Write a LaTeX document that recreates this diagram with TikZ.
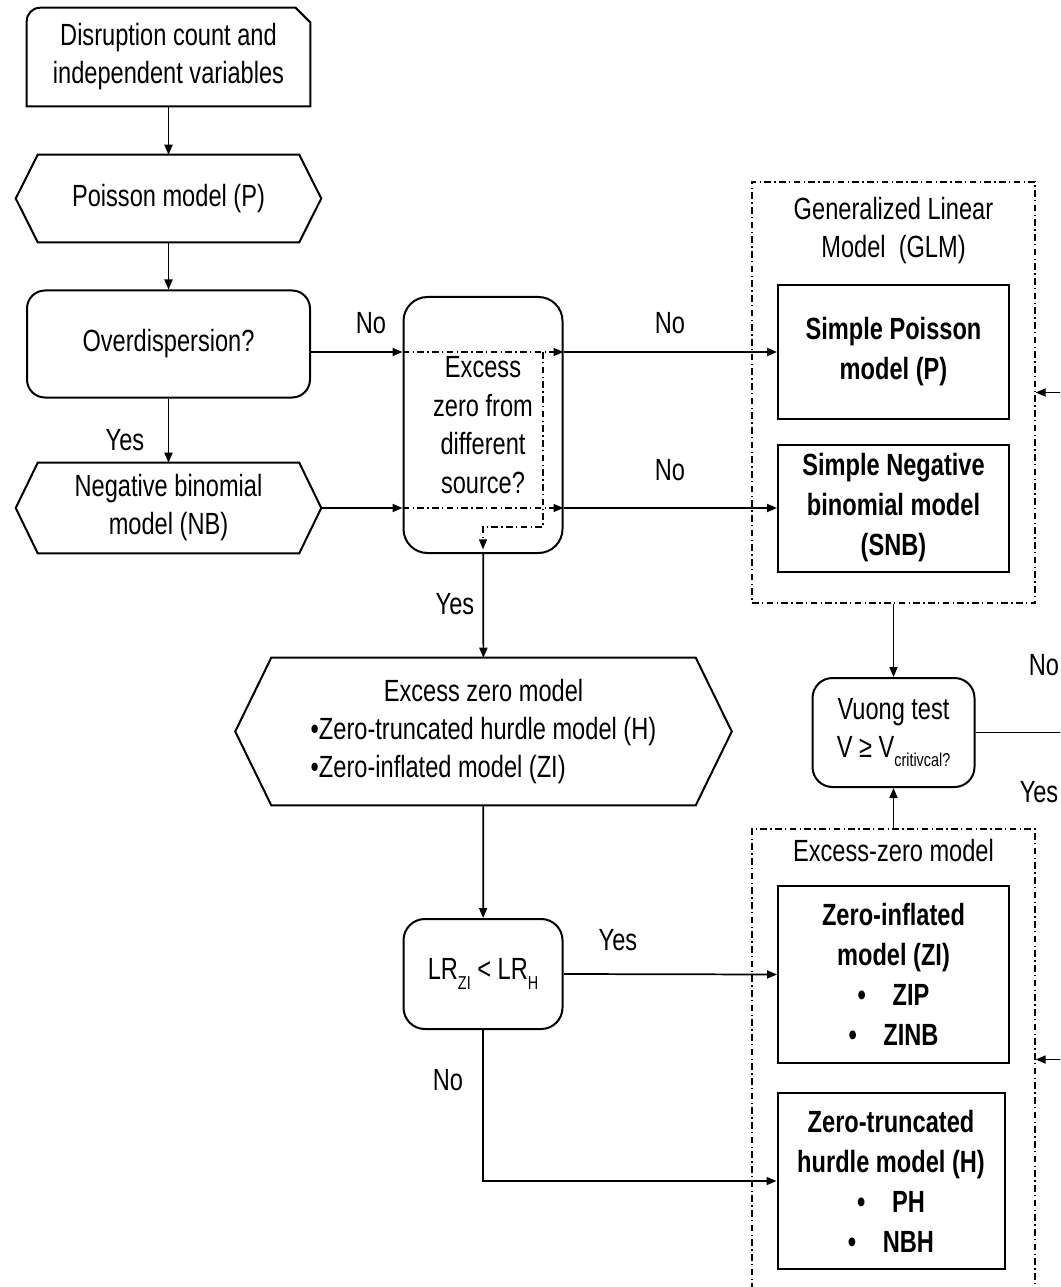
\documentclass[tikz,border=0pt]{standalone}
\usepackage{fontspec}
\setmainfont{Liberation Sans}[FakeStretch=0.77]
\usetikzlibrary{arrows.meta}
\newcommand\lowtxt[1]{\raisebox{-0.3em}{\fontsize{14}{14}\selectfont #1}}
\begin{document}
\begin{tikzpicture}[x=0.75pt,y=-0.75pt,
  every node/.style={font=\fontsize{23}{28.5}\selectfont, inner sep=0pt, align=center},
  shp/.style={line width=1.5pt},
  rbox/.style={draw, shp, rounded corners=#1},
  rbox/.default=13.5pt,
  sbox/.style={draw, shp, font=\fontsize{23}{30}\selectfont\bfseries},
  arr/.style={line width=1.3pt, -{Triangle[length=7.5pt,width=6pt]}},
  dd/.style={line width=1pt, dash pattern=on 5pt off 2.5pt on 1pt off 2.5pt},
  ddarr/.style={dd, -{Triangle[length=7.5pt,width=6pt]}},
  lbl/.style={font=\fontsize{23}{28}\selectfont}
]
\useasboundingbox (0,0) rectangle (1060,1287);
\clip (0,0) rectangle (1060,1287);

% ---------- left column ----------
\node[minimum width=212.25pt, minimum height=73.5pt] (start) at (168.5,57) {Disruption count and\\independent variables};
\draw[shp] (start.south west) {[rounded corners=10pt] -- (start.north west) -- (start.north)} -- ([xshift=-11pt]start.north east) -- ([yshift=-11pt]start.north east) -- (start.south east) -- cycle;

\node[minimum width=228.75pt, minimum height=65.25pt] (pois) at (168.5,198.5) {Poisson model (P)};
\draw[shp] (pois.west) -- ([xshift=16.5pt]pois.north west) -- ([xshift=-16.5pt]pois.north east) -- (pois.east) -- ([xshift=-16.5pt]pois.south east) -- ([xshift=16.5pt]pois.south west) -- cycle;

\node[rbox=13.5pt, minimum width=212.25pt, minimum height=80.25pt] (over) at (168.5,344) {Overdispersion?};

\node[minimum width=228.75pt, minimum height=67.5pt] (nb) at (168.5,508) {Negative binomial\\model (NB)};
\draw[shp] (nb.west) -- ([xshift=16.5pt]nb.north west) -- ([xshift=-16.5pt]nb.north east) -- (nb.east) -- ([xshift=-16.5pt]nb.south east) -- ([xshift=16.5pt]nb.south west) -- cycle;

% ---------- middle column ----------
\node[rbox=18pt, minimum width=119.25pt, minimum height=192pt, font=\fontsize{23}{29}\selectfont] (exz) at (483,425) {Excess\\zero from\\different\\source?};

\node[minimum width=372pt, minimum height=110.25pt] (ezm) at (483.5,731.5) {\begin{tabular}{@{}l@{}}\multicolumn{1}{@{}c@{}}{Excess zero model}\\ •Zero-truncated hurdle model (H)\\ •Zero-inflated model (ZI)\end{tabular}};
\draw[shp] (ezm.west) -- ([xshift=27pt]ezm.north west) -- ([xshift=-27pt]ezm.north east) -- (ezm.east) -- ([xshift=-27pt]ezm.south east) -- ([xshift=27pt]ezm.south west) -- cycle;

\node[rbox=16pt, minimum width=119.25pt, minimum height=82.5pt] (lr) at (483,974) {LR\lowtxt{ZI} < LR\lowtxt{H}};

% ---------- right column ----------
\node[draw, dd, minimum width=212.25pt, minimum height=315.75pt] (glm) at (893.5,392.5) {};
\node (glmlbl) at (893.5,231) {Generalized Linear\\Model~~(GLM)};
\node[sbox, minimum width=173.25pt, minimum height=100.5pt] (sp) at (893.5,352) {Simple Poisson\\model (P)};
\node[sbox, minimum width=173.25pt, minimum height=95.25pt] (snb) at (893.5,508) {Simple Negative\\binomial model\\(SNB)};

\node[rbox=15pt, minimum width=121.5pt, minimum height=81.75pt] (vuong) at (893.5,732.5) {Vuong test\\V ≥ V\lowtxt{critivcal?}};

\node[draw, dd, minimum width=212.25pt, minimum height=345.75pt] (ez) at (893.5,1059.5) {};
\node (ezlbl) at (893.5,851) {Excess-zero model};
\node[sbox, minimum width=173.25pt, minimum height=132.75pt] (zi) at (893.5,974.5) {Zero-inflated\\model (ZI)\\•\hspace{20pt}ZIP\\•\hspace{20pt}ZINB};
\node[sbox, minimum width=170.25pt, minimum height=132pt] (hm) at (891,1181) {Zero-truncated\\hurdle model (H)\\•\hspace{20pt}PH\\•\hspace{20pt}NBH};

% ---------- connectors ----------
\draw[arr] (start) -- (pois);
\draw[arr] (pois) -- (over);
\draw[arr] (over) -- (nb);
\node[lbl] (yes1) at (125,440) {Yes};

\draw[arr] (over.east |- sp.west) -- (exz.west |- sp.west);
\draw[ddarr] (exz.west |- sp.west) -- (exz.east |- sp.west);
\draw[arr] (exz.east |- sp.west) -- (sp.west);
\node[lbl] (no1) at (371,323) {No};
\node[lbl] (no2) at (670,323) {No};

\draw[arr] (nb.east) -- (exz.west |- nb.east);
\draw[ddarr] (exz.west |- nb.east) -- (exz.east |- nb.east);
\draw[arr] (exz.east |- nb.east) -- (snb.west);
\node[lbl] (no3) at (670,470) {No};

\coordinate (dtop) at (543,352);
\coordinate (dbot) at (543,527);
\draw[ddarr] (dtop) -- (dbot) -| ([yshift=3.5pt]exz.south);

\draw[arr] (exz) -- (ezm);
\node[lbl] (yes2) at (455,604) {Yes};

\draw[arr] (ezm) -- (lr);
\draw[arr] (lr.east) -- (zi.west);
\node[lbl] (yes3) at (618,940) {Yes};
\draw[arr] (lr.south) |- (hm.west);
\node[lbl] (no4) at (448,1080) {No};

\draw[arr] (glm) -- (vuong);
\draw[arr] (ez) -- (vuong);

\coordinate (rr) at (1090,732.5);
\draw[line width=1.3pt] (vuong.east) -- (rr);
\draw[arr] (rr) |- (glm.east);
\draw[arr] (rr) |- (ez.east);
\node[lbl] (no5) at (1044,665) {No};
\node[lbl] (yes4) at (1039,792) {Yes};
\end{tikzpicture}
\end{document}
